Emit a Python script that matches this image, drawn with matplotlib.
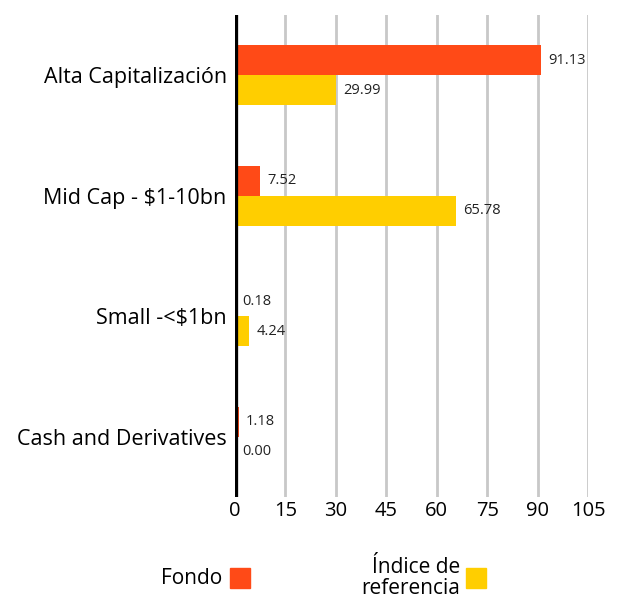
import matplotlib
matplotlib.use("Agg")
import matplotlib.pyplot as plt
import numpy as np

categories = ["Alta Capitalización", "Mid Cap - $1-10bn", "Small -<$1bn", "Cash and Derivatives"]
fondo = [91.13, 7.52, 0.18, 1.18]
indice = [29.99, 65.78, 4.24, 0.00]
series_names = ["Fondo", "Índice de\nreferencia"]
xticks = [0, 15, 30, 45, 60, 75, 90, 105]

col_fondo = "#FF4A17"
col_indice = "#FFCE00"

plt.rcParams["font.family"] = ["Open Sans", "DejaVu Sans"]

fig = plt.figure(figsize=(6.22, 6.03), dpi=100)
ax = fig.add_axes([235 / 622, 1 - 497 / 603, (588 - 235) / 622, (497 - 15) / 603])

y = np.arange(len(categories))
h = 0.25
ax.barh(y - h / 2, fondo, height=h, color=col_fondo, zorder=3)
ax.barh(y + h / 2, indice, height=h, color=col_indice, zorder=3)

# value labels to the right of each bar
for i in range(len(categories)):
    ax.text(fondo[i] + 2.1, y[i] - h / 2, f"{fondo[i]:.2f}", va="center", ha="left",
            fontsize=10.5, color="#222222")
    ax.text(indice[i] + 2.1, y[i] + h / 2, f"{indice[i]:.2f}", va="center", ha="left",
            fontsize=10.5, color="#222222")

ax.set_xlim(0, 105)
ax.set_ylim(len(categories) - 0.5, -0.5)
ax.set_xticks(xticks)
ax.set_xticklabels([str(t) for t in xticks], fontsize=14.5)
ax.set_yticks(y)
ax.set_yticklabels(categories, fontsize=15.5)
ax.tick_params(axis="both", length=0, pad=6)
ax.tick_params(axis="x", pad=3)

for t in xticks[1:]:
    ax.axvline(t, color="#C8C8C8", linewidth=2, zorder=1)
ax.axvline(0, color="black", linewidth=3.8, zorder=4)

for s in ax.spines.values():
    s.set_visible(False)

# legend drawn by hand at the bottom
fig.text(222 / 622, 1 - 579 / 603, series_names[0], ha="right", va="center", fontsize=15)
fig.patches.append(plt.Rectangle((230 / 622, 1 - 588 / 603), 20 / 622, 20 / 603,
                                 transform=fig.transFigure, color=col_fondo))
fig.text(460 / 622, 1 - 578 / 603, series_names[1], ha="right", va="center", fontsize=15,
         linespacing=1.05)
fig.patches.append(plt.Rectangle((466 / 622, 1 - 588 / 603), 20 / 622, 20 / 603,
                                 transform=fig.transFigure, color=col_indice))

fig.savefig("out.png", dpi=100)
